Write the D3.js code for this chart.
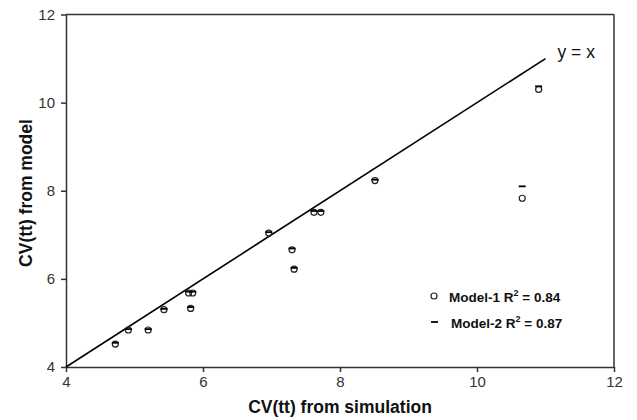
<!DOCTYPE html>
<html><head><meta charset="utf-8">
<script src="https://cdn.jsdelivr.net/npm/d3@7"></script>
<style>body{margin:0;background:#fff;}svg{display:block;font-family:Arial,"Liberation Sans",sans-serif;}</style>
</head><body><svg id="c" width="637" height="420"></svg>
<script>
const simX   = [4.72, 4.91, 5.20, 5.43, 5.79, 5.85, 5.82, 6.96, 7.30, 7.33, 7.62, 7.72, 8.51, 10.90, 10.66];
const model1 = [4.52, 4.84, 4.84, 5.30, 5.68, 5.68, 5.33, 7.04, 6.66, 6.22, 7.51, 7.51, 8.23, 10.30, 7.83];
const model2 = [4.55, 4.86, 4.86, 5.32, 5.71, 5.71, 5.36, 7.06, 6.69, 6.25, 7.54, 7.54, 8.25, 10.37, 8.10];
const ticks = [4, 6, 8, 10, 12];
const legendLabels = [["Model-1 R", "2", " = 0.84"], ["Model-2 R", "2", " = 0.87"]];

const svg = d3.select("#c");
const L = 66, R = 614, T = 14.5, B = 367;
const x = d3.scaleLinear().domain([4, 12]).range([L, R]);
const y = d3.scaleLinear().domain([4, 12]).range([B, T]);
const axCol = "#333";

// frame top/right
svg.append("line").attr("x1", L).attr("x2", R).attr("y1", T).attr("y2", T).attr("stroke", axCol).attr("stroke-width", 1.5);
svg.append("line").attr("x1", R).attr("x2", R).attr("y1", T).attr("y2", B).attr("stroke", axCol).attr("stroke-width", 1.5);

const xAxis = svg.append("g").attr("transform", `translate(0,${B})`).call(d3.axisBottom(x).tickValues(ticks).tickSize(5).tickSizeOuter(0).tickPadding(4));
const yAxis = svg.append("g").attr("transform", `translate(${L},0)`).call(d3.axisLeft(y).tickValues(ticks).tickSize(5).tickSizeOuter(0).tickPadding(6));
[xAxis, yAxis].forEach(g => {
  g.select(".domain").attr("stroke", axCol).attr("stroke-width", 1.5);
  g.selectAll(".tick line").attr("stroke", axCol).attr("stroke-width", 1.5);
  g.selectAll(".tick text").attr("fill", "#333").style("font-size", "15px").style("font-family", "Arial, 'Liberation Sans', sans-serif");
});

// y = x line
svg.append("line").attr("x1", x(4)).attr("y1", y(4)).attr("x2", x(11)).attr("y2", y(11)).attr("stroke", "#000").attr("stroke-width", 1.6);
svg.append("text").attr("x", x(11) + 12).attr("y", y(11) - 1).text("y = x").style("font-size", "17.5px").attr("fill", "#111");

// points
svg.append("g").selectAll("circle").data(simX).join("circle")
  .attr("cx", (d) => x(d)).attr("cy", (d, i) => y(model1[i])).attr("r", 3)
  .attr("fill", "none").attr("stroke", "#222").attr("stroke-width", 1.2);
svg.append("g").selectAll("line").data(simX).join("line")
  .attr("x1", (d) => x(d) - 3.5).attr("x2", (d) => x(d) + 3.5)
  .attr("y1", (d, i) => y(model2[i])).attr("y2", (d, i) => y(model2[i]))
  .attr("stroke", "#000").attr("stroke-width", 1.8);

// legend
const lg = svg.append("g");
lg.append("circle").attr("cx", 434).attr("cy", 296).attr("r", 3).attr("fill", "none").attr("stroke", "#222").attr("stroke-width", 1.2);
lg.append("line").attr("x1", 431).attr("x2", 438).attr("y1", 322).attr("y2", 322).attr("stroke", "#000").attr("stroke-width", 1.8);
legendLabels.forEach((lab, i) => {
  const t = lg.append("text").attr("x", i === 0 ? 449 : 451).attr("y", 302 + i * 26)
    .style("font-size", "13.5px").style("font-weight", "bold").attr("fill", "#111");
  t.append("tspan").text(lab[0]);
  t.append("tspan").text(lab[1]).attr("dy", -6).style("font-size", "9px");
  t.append("tspan").text(lab[2]).attr("dy", 6);
});

// axis titles
svg.append("text").attr("x", 340).attr("y", 413).attr("text-anchor", "middle")
  .style("font-size", "17.5px").style("font-weight", "bold").attr("fill", "#111").text("CV(tt) from simulation");
svg.append("text").attr("transform", `translate(32,193) rotate(-90)`).attr("text-anchor", "middle")
  .style("font-size", "17.5px").style("font-weight", "bold").attr("fill", "#111").text("CV(tt) from model");
</script></body></html>
